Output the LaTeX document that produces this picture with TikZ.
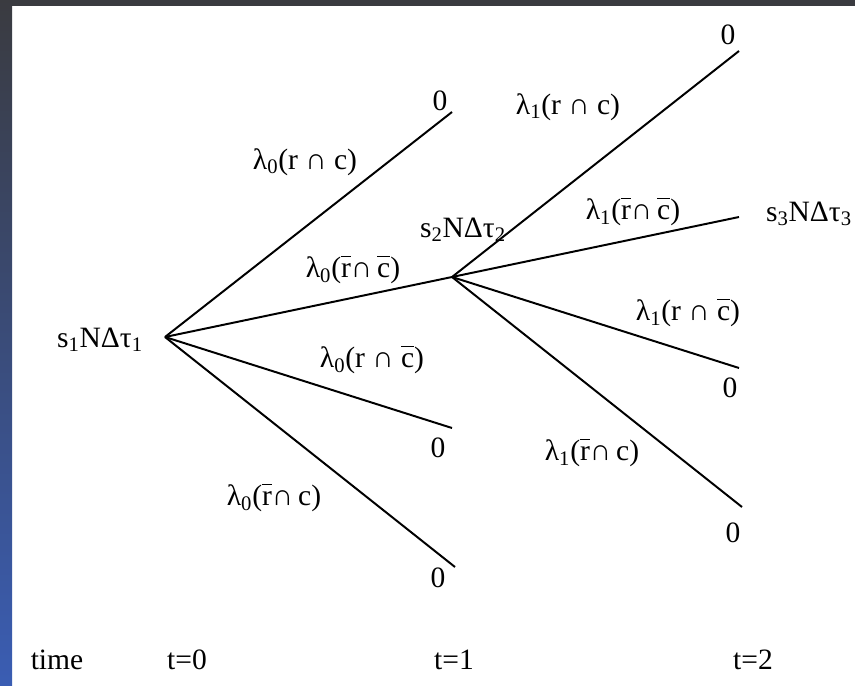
\documentclass[tikz,border=0pt]{standalone}
\usepackage{fontspec}
\setmainfont{Liberation Serif}
\newcommand{\nb}[1]{$\overline{\mbox{\vphantom{T}#1}}$}
\definecolor{slidegray}{HTML}{3A3B40}
\definecolor{slideblue}{HTML}{3A5DB3}

\begin{document}
\begin{tikzpicture}[x=0.025cm,y=-0.025cm,
    lbl/.style={font=\fontsize{21}{25}\selectfont, inner sep=0pt},
    branch/.style={line width=1.4pt}]
    \useasboundingbox (0,0) rectangle (855,685);
    \fill[slidegray] (0,0) rectangle (855,6);
    \shade[top color=slidegray, bottom color=slideblue] (0,0) rectangle (12,685);
    % states
    \coordinate (s1) at (165,337);
    \coordinate (s2) at (452,277);
    \coordinate (a1) at (452,112);
    \coordinate (a3) at (452,428);
    \coordinate (a4) at (455,567);
    \coordinate (b1) at (739,51);
    \coordinate (b2) at (739,217);
    \coordinate (b3) at (739,368);
    \coordinate (b4) at (742,507);
    \node[lbl] (s1t) at (100,340) {s\textsubscript{1}NΔτ\textsubscript{1}};
    \node[lbl] (s2t) at (463,230) {s\textsubscript{2}NΔτ\textsubscript{2}};
    \node[lbl] (s3t) at (809,214) {s\textsubscript{3}NΔτ\textsubscript{3}};
    \node[lbl] (z1) at (440,101) {0};
    \node[lbl] (z3) at (438,448) {0};
    \node[lbl] (z4) at (438,578) {0};
    \node[lbl] (z5) at (728,35) {0};
    \node[lbl] (z7) at (730,388) {0};
    \node[lbl] (z8) at (733,533) {0};
    % branches
    \draw[branch] (s1) -- (a1);
    \draw[branch] (s1) -- (s2);
    \draw[branch] (s1) -- (a3);
    \draw[branch] (s1) -- (a4);
    \draw[branch] (s2) -- (b1);
    \draw[branch] (s2) -- (b2);
    \draw[branch] (s2) -- (b3);
    \draw[branch] (s2) -- (b4);
    % rates
    \node[lbl] (l01) at (305,162) {λ\textsubscript{0}(r ∩ c)};
    \node[lbl] (l02) at (353,270) {λ\textsubscript{0}(\nb{r}∩\,\nb{c})};
    \node[lbl] (l03) at (372,360) {λ\textsubscript{0}(r ∩ \nb{c})};
    \node[lbl] (l04) at (274,498) {λ\textsubscript{0}(\nb{r}∩\,c)};
    \node[lbl] (l11) at (568,107) {λ\textsubscript{1}(r ∩ c)};
    \node[lbl] (l12) at (633,212) {λ\textsubscript{1}(\nb{r}∩\,\nb{c})};
    \node[lbl] (l13) at (688,313) {λ\textsubscript{1}(r ∩ \nb{c})};
    \node[lbl] (l14) at (592,453) {λ\textsubscript{1}(\nb{r}∩\,c)};
    % time axis
    \node[lbl] (time) at (57,660) {time};
    \node[lbl] (t0) at (187,660) {t=0};
    \node[lbl] (t1) at (454,660) {t=1};
    \node[lbl] (t2) at (753,660) {t=2};
\end{tikzpicture}
\end{document}
